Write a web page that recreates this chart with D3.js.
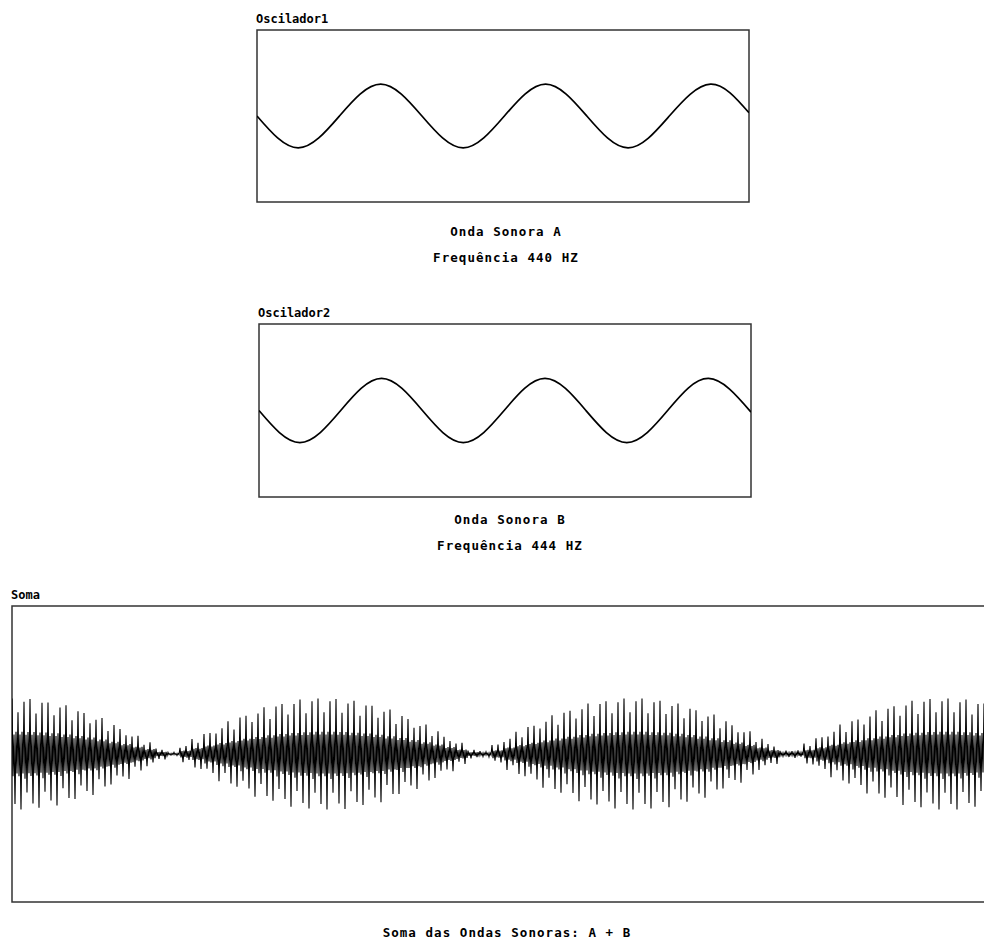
<!DOCTYPE html>
<html>
<head>
<meta charset="utf-8">
<script src="https://cdn.jsdelivr.net/npm/d3@7"></script>
<style>
    html, body {margin: 0; padding: 0; background: #fff; overflow: hidden;}
    svg {display: block;}
    .title {font-family: "DejaVu Sans Mono", monospace; font-weight: bold; font-size: 12px; fill: #000;}
    .caption {font-family: "DejaVu Sans Mono", monospace; font-weight: bold; font-size: 12.5px; letter-spacing: 1.05px; fill: #000;}
</style>
</head>
<body>
<script>
// oscillator A, 440 Hz: time (ms) at quarter periods and the level read there
const oscATimes = [0, 0.568, 1.136, 1.705, 2.273, 2.841, 3.409, 3.977, 4.545, 5.114, 5.682, 6.250, 6.780];
const oscAValues = [0, -1, 0, 1, 0, -1, 0, 1, 0, -1, 0, 1, 0.1];

// oscillator B, 444 Hz
const oscBTimes = [0, 0.563, 1.126, 1.689, 2.252, 2.815, 3.378, 3.941, 4.505, 5.068, 5.631, 6.194, 6.780];
const oscBValues = [0, -1, 0, 1, 0, -1, 0, 1, 0, -1, 0, 1, -0.05];

// sum A + B: beat envelope read every 12 samples, and the spike heights seen inside one group
const beatEnvelope = [
    1.00, 0.99, 0.97, 0.93, 0.88, 0.81, 0.74, 0.65, 0.55, 0.45,
    0.33, 0.22, 0.10, 0.03, 0.15, 0.27, 0.38, 0.49, 0.59, 0.69,
    0.77, 0.84, 0.90, 0.95, 0.98, 1.00, 1.00, 0.99, 0.96, 0.92,
    0.87, 0.80, 0.72, 0.63, 0.53, 0.43, 0.31, 0.20, 0.08, 0.05,
    0.17, 0.29, 0.40, 0.51, 0.61, 0.70, 0.78, 0.85, 0.91, 0.95,
    0.98, 1.00, 1.00, 0.98, 0.96, 0.91, 0.86, 0.79, 0.71, 0.62,
    0.52, 0.41, 0.29, 0.18, 0.06, 0.07, 0.19, 0.30, 0.42, 0.53,
    0.62, 0.71, 0.79, 0.86, 0.92, 0.96, 0.99, 1.00, 1.00, 0.98,
    0.95, 0.91, 0.85
];
const spikePattern = [1.0, -0.4, 0.35, -0.9, 0.4, -0.35, 0.75, -0.4, 0.35,
    -1.0, 0.4, -0.35, 0.95, -0.45, 0.35, -0.7, 0.4, -0.35];
const sumPeak = 1.95;
const samplesPerBlock = 12;

const titles = ["Oscilador1", "Oscilador2", "Soma"];
const captionsA = ["Onda Sonora A", "Frequência 440 HZ"];
const captionsB = ["Onda Sonora B", "Frequência 444 HZ"];
const captionsSum = ["Soma das Ondas Sonoras: A + B"];

const width = 984, height = 941;

const svg = d3.select("body").append("svg")
    .attr("width", width)
    .attr("height", height);

const defs = svg.append("defs");

function drawPanel(box, id, title, captions, captionX, captionY) {
    const g = svg.append("g");

    defs.append("clipPath").attr("id", id)
        .append("rect")
        .attr("x", box.left)
        .attr("y", box.top)
        .attr("width", box.width)
        .attr("height", box.height);

    g.append("text")
        .attr("class", "title")
        .attr("x", box.left - 1)
        .attr("y", box.top - 7)
        .text(title);

    g.append("rect")
        .attr("x", box.left)
        .attr("y", box.top)
        .attr("width", box.width)
        .attr("height", box.height)
        .attr("fill", "none")
        .attr("stroke", "#333")
        .attr("stroke-width", 1.5);

    g.selectAll("text.caption")
        .data(captions)
        .join("text")
        .attr("class", "caption")
        .attr("text-anchor", "middle")
        .attr("x", captionX)
        .attr("y", (d, i) => captionY + i * 26)
        .text(d => d);

    return g;
}

function drawOscillator(box, id, times, values, title, captions, captionX, captionY) {
    const g = drawPanel(box, id, title, captions, captionX, captionY);

    const x = d3.scaleLinear().domain([0, 6.78]).range([box.left, box.left + box.width]);
    const y = d3.scaleLinear().domain([-2.7, 2.7]).range([box.top + box.height, box.top]);

    const wave = d3.line()
        .x((d, i) => x(times[i]))
        .y(d => y(d))
        .curve(d3.curveNatural);

    g.append("path")
        .attr("clip-path", `url(#${id})`)
        .attr("d", wave(values))
        .attr("fill", "none")
        .attr("stroke", "#000")
        .attr("stroke-width", 1.7);
}

drawOscillator({left: 257, top: 30, width: 492, height: 172}, "clip-a",
    oscATimes, oscAValues, titles[0], captionsA, 506, 236);

drawOscillator({left: 259, top: 324, width: 492, height: 173}, "clip-b",
    oscBTimes, oscBValues, titles[1], captionsB, 510, 524);

// sum panel runs off the right side of the window
const sumBox = {left: 12, top: 606, width: 990, height: 296};
const sumG = drawPanel(sumBox, "clip-sum", titles[2], captionsSum, 507, 937);

const sumValues = d3.range(beatEnvelope.length * samplesPerBlock).map(i =>
    beatEnvelope[Math.floor(i / samplesPerBlock)] * sumPeak * spikePattern[i % spikePattern.length]);

const sx = d3.scaleLinear().domain([0, 990]).range([sumBox.left, sumBox.left + sumBox.width]);
const sy = d3.scaleLinear().domain([-5.2, 5.2]).range([sumBox.top + sumBox.height, sumBox.top]);

sumG.append("path")
    .attr("clip-path", "url(#clip-sum)")
    .attr("d", d3.line().x((d, i) => sx(i)).y(d => sy(d))(sumValues))
    .attr("fill", "none")
    .attr("stroke", "#000")
    .attr("stroke-width", 1.1);
</script>
</body>
</html>
